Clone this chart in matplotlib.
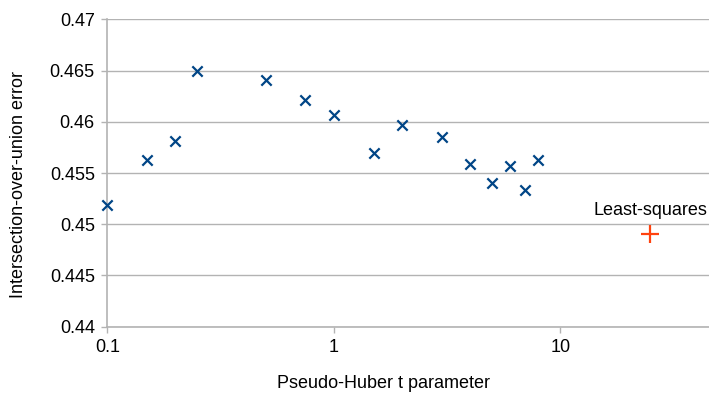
import matplotlib
matplotlib.use("Agg")
import matplotlib.pyplot as plt
from matplotlib.ticker import FixedLocator, NullLocator

plt.rcParams['font.family'] = ['Liberation Sans', 'DejaVu Sans']

t_values = [0.1, 0.15, 0.2, 0.25, 0.5, 0.75, 1, 1.5, 2, 3, 4, 5, 6, 7, 8]
iou_error = [0.4519, 0.4563, 0.4581, 0.4650, 0.4641, 0.4621, 0.4607, 0.4570,
             0.4597, 0.4585, 0.4559, 0.4540, 0.4557, 0.4533, 0.4563]
ls_t = [25]
ls_error = [0.4490]
ls_label = "Least-squares"
x_ticks = [0.1, 1, 10]
x_tick_labels = ["0.1", "1", "10"]
y_ticks = [0.44, 0.445, 0.45, 0.455, 0.46, 0.465, 0.47]
y_tick_labels = ["0.44", "0.445", "0.45", "0.455", "0.46", "0.465", "0.47"]

W, H = 709, 394
fig = plt.figure(figsize=(W / 100, H / 100), dpi=100)
left, right, top, bottom = 107.3, 709, 19.3, 326.7
ax = fig.add_axes([left / W, 1 - bottom / H, (right - left) / W, (bottom - top) / H])

grid_c = '#b3b3b3'
ax.set_xscale('log')
ax.set_xlim(0.1, 45.4)
ax.set_ylim(0.44, 0.47)
ax.xaxis.set_major_locator(FixedLocator(x_ticks))
ax.xaxis.set_minor_locator(NullLocator())
ax.set_xticks(x_ticks)
ax.set_xticklabels(x_tick_labels)
ax.set_yticks(y_ticks)
ax.set_yticklabels(y_tick_labels)
ax.yaxis.grid(True, color=grid_c, linewidth=1.0)
ax.set_axisbelow(True)
for s in ['top', 'right']:
    ax.spines[s].set_visible(False)
for s in ['left', 'bottom']:
    ax.spines[s].set_color(grid_c)
    ax.spines[s].set_linewidth(1.2)
ax.tick_params(axis='both', which='major', direction='out', length=4, width=1,
               color=grid_c, labelsize=13, labelcolor='black', pad=5)

ax.scatter(t_values, iou_error, marker='x', s=55, color='#004586', linewidths=1.6,
           zorder=3, clip_on=False)
ax.scatter(ls_t, ls_error, marker='+', s=160, color='#ff420e', linewidths=1.6,
           zorder=3, clip_on=False)
ax.annotate(ls_label, (ls_t[0], ls_error[0]), xytext=(0, 11), textcoords='offset points',
            ha='center', va='bottom', fontsize=13)

fig.text(383 / W, 1 - 375.5 / H, "Pseudo-Huber t parameter", ha='center', va='top', fontsize=13)
fig.text(18.5 / W, 1 - 184 / H, "Intersection-over-union error", ha='center', va='center',
         rotation=90, fontsize=13)

fig.savefig("out.png", dpi=100)
